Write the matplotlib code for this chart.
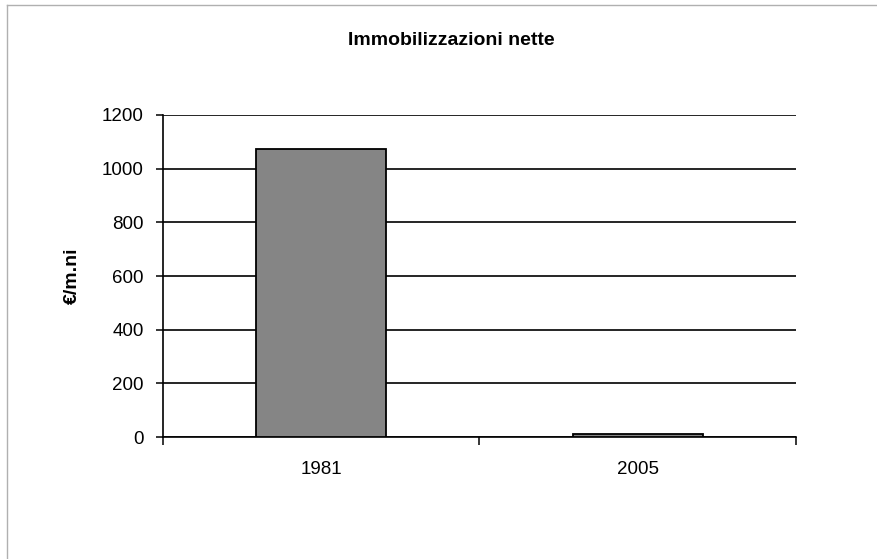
import matplotlib.pyplot as plt
from matplotlib.lines import Line2D

years = ["1981", "2005"]
values = [1073, 10]
y_ticks = [0, 200, 400, 600, 800, 1000, 1200]

plt.rcParams['font.family'] = ['Liberation Sans', 'DejaVu Sans']

fig = plt.figure(figsize=(8.78, 5.59), dpi=100)
ax = fig.add_axes([0.1856, 0.2182, 0.721, 0.5761])

pos = list(range(len(years)))
ax.bar(pos, values, width=0.41, color="#858585", edgecolor="black", linewidth=1.3, zorder=3)

ax.set_xlim(-0.5, len(years) - 0.5)
ax.set_ylim(0, 1200)
ax.set_yticks(y_ticks)
ax.set_yticklabels([str(t) for t in y_ticks], fontsize=13.5)
ax.yaxis.grid(True, color="black", linewidth=1.2, zorder=0)
ax.set_xticks(pos)
ax.set_xticklabels(years, fontsize=13.5)
ax.tick_params(axis="x", length=0, pad=17)
ax.set_xticks([-0.5, 0.5, 1.5], minor=True)
ax.tick_params(axis="x", which="minor", length=6, direction="out", width=1.1)
ax.tick_params(axis="y", length=5, direction="out", width=1.1, pad=9)

for s in ["top", "right"]:
    ax.spines[s].set_visible(False)
ax.spines["left"].set_linewidth(1.2)
ax.spines["bottom"].set_linewidth(1.2)

ax.set_ylabel("€/m.ni", fontsize=14, fontweight="bold", labelpad=15)
fig.text(0.514, 0.928, "Immobilizzazioni nette", ha="center", va="center",
         fontsize=14, fontweight="bold")

# outer chart frame (top and left edges visible in the scan)
fig.lines.append(Line2D([0.008, 0.008], [0.0, 0.991], transform=fig.transFigure,
                        color="#b0b0b0", linewidth=1))
fig.lines.append(Line2D([0.008, 1.0], [0.991, 0.991], transform=fig.transFigure,
                        color="#b0b0b0", linewidth=1))

fig.savefig("out.png", dpi=100)
